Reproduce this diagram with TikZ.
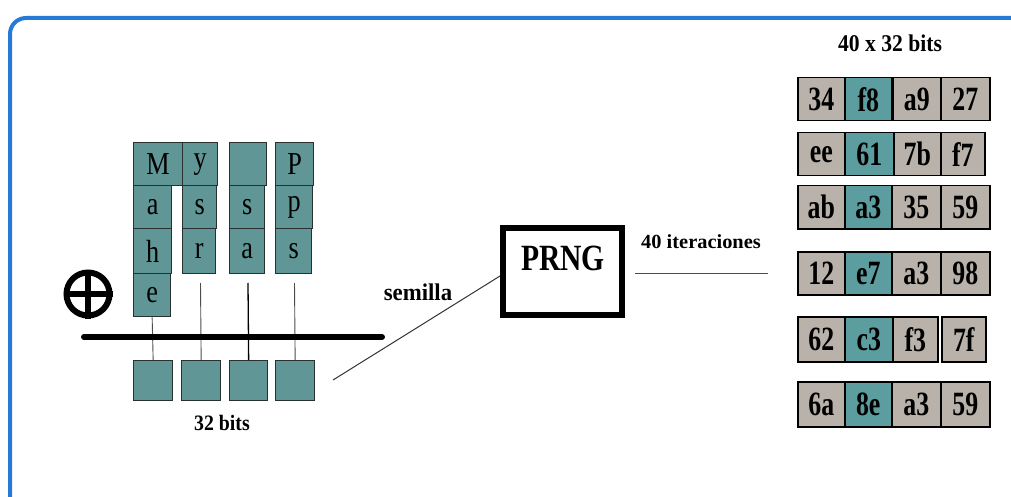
\documentclass[tikz,border=0pt]{standalone}
\usepackage{fontspec}
\setmainfont{Liberation Serif}

% narrow the glyphs horizontally
\newcommand\narrow[2][0.8]{\scalebox{#1}[1]{#2}}

\definecolor{frameblue}{RGB}{38,122,214}
\definecolor{tealcell}{RGB}{96,150,150}
\definecolor{tealhex}{RGB}{92,158,160}
\definecolor{grayhex}{RGB}{184,178,170}
\definecolor{celledge}{RGB}{40,48,48}

\tikzset{
  letter/.style={draw=celledge, fill=tealcell, line width=1.3pt, inner sep=0pt,
    font=\fontsize{32}{32}\selectfont},
  bitcell/.style={draw=celledge, fill=tealcell, line width=1.3pt, inner sep=0pt,
    minimum width=38pt, minimum height=40pt},
  hexgray/.style={draw=black, fill=grayhex, line width=1.5pt, inner sep=0pt,
    minimum height=43pt, font=\bfseries\fontsize{34}{34}\selectfont},
  hexteal/.style={hexgray, fill=tealhex},
  wire/.style={draw=black!70, line width=0.9pt},
  label/.style={inner sep=0pt, font=\bfseries\fontsize{24}{24}\selectfont},
}

\begin{document}
\begin{tikzpicture}[x=1pt, y=-1pt]
\useasboundingbox (0,0) rectangle (1011,497);
\clip (0,0) rectangle (1011,497);

% outer frame: left and top sides with the rounded corner between them
\draw[frameblue, line width=4pt, rounded corners=16pt] (10,520) -- (10,18) -- (1040,18);

% ---- message split in four columns of letters ----
\node[letter, minimum width=49pt, minimum height=43pt, anchor=north west] (cM) at (133,142) {\narrow[0.82]{M}};
\node[letter, minimum width=38pt, minimum height=43pt, anchor=north west] (ca) at (133,185) {\narrow[0.82]{a}};
\node[letter, minimum width=38pt, minimum height=45pt, anchor=north west] (ch) at (133,228) {\narrow[0.82]{h}};
\node[letter, minimum width=37pt, minimum height=43pt, anchor=north west] (ce) at (133,273) {\narrow[0.82]{e}};

\node[letter, minimum width=35pt, minimum height=43pt, anchor=north west] (cy) at (182,142) {\narrow[0.82]{y}};
\node[letter, minimum width=34pt, minimum height=43pt, anchor=north west] (cs) at (182,185) {\narrow[0.82]{s}};
\node[letter, minimum width=33pt, minimum height=45pt, anchor=north west] (cr) at (182,228) {\narrow[0.82]{r}};

\node[letter, minimum width=37pt, minimum height=43pt, anchor=north west] (cb) at (229,142) {};
\node[letter, minimum width=35pt, minimum height=43pt, anchor=north west] (cs2) at (229,185) {\narrow[0.82]{s}};
\node[letter, minimum width=35pt, minimum height=45pt, anchor=north west] (ca2) at (229,228) {\narrow[0.82]{a}};

\node[letter, minimum width=38pt, minimum height=43pt, anchor=north west] (cP) at (275,142) {\narrow[0.82]{P}};
\node[letter, minimum width=37pt, minimum height=43pt, anchor=north west] (cp) at (275,185) {\narrow[0.82]{p}};
\node[letter, minimum width=36pt, minimum height=45pt, anchor=north west] (cs3) at (275,228) {\narrow[0.82]{s}};

% ---- four resulting bytes ----
\node[bitcell, minimum width=39pt, anchor=north west] (b1) at (133,360) {};
\node[bitcell, minimum width=39pt, anchor=north west] (b2) at (181,360) {};
\node[bitcell, minimum width=38pt, anchor=north west] (b3) at (229,360) {};
\node[bitcell, minimum width=39pt, anchor=north west] (b4) at (275,360) {};
\node[label, font=\bfseries\fontsize{22}{22}\selectfont] (bits) at (222,423) {\narrow[0.9]{32 bits}};

% feeds from the columns into the bytes
\coordinate (f2) at (200.5,283);
\coordinate (f3) at (248,283);
\coordinate (f4) at (294.5,283);
\draw[wire] (ce.south) -- (b1.north);
\draw[wire] (f2) -- (b2.north);
\draw[black, line width=1.3pt] (f3) -- (b3.north);
\draw[wire] (f4) -- (b4.north);

% xor bar
\coordinate (barL) at (84,337);
\coordinate (barR) at (382,337);
\draw[black, line width=6pt, line cap=round] (barL) -- (barR);

% xor symbol
\node[circle, draw=black, line width=6pt, minimum size=43pt, inner sep=0pt] (xor) at (88,294) {};
\draw[black, line width=5.5pt] (xor.north) -- (xor.south);
\draw[black, line width=5.5pt] (xor.west) -- (xor.east);

% ---- PRNG ----
\node[draw=black, line width=6pt, minimum width=119pt, minimum height=87pt, inner sep=0pt] (prng) at (562.5,271.5) {};
\node[inner sep=0pt, font=\bfseries\fontsize{37}{37}\selectfont, anchor=base] (prngtxt) at (563,270) {\narrow[0.8]{PRNG}};

% seed
\coordinate (seedfrom) at (333,380);
\draw[black!80, line width=1pt] (seedfrom) -- (prng.west |- 0,276);
\node[label, anchor=base] (seed) at (418,300) {\narrow[0.95]{semilla}};

% iterations
\coordinate (itL) at (635,273);
\coordinate (itR) at (768,273);
\draw[black!70, line width=1pt] (itL) -- (itR);
\node[label, font=\bfseries\fontsize{20}{20}\selectfont, anchor=base] (iter) at (701,248) {\narrow[1.02]{40 iteraciones}};

% ---- output words ----
\node[label, anchor=base] (title) at (890,52) {\narrow[0.9]{40 x 32 bits}};

% row 1
\node[hexgray, minimum width=47pt, anchor=north west] (r1a) at (797,77) {\narrow[0.76]{34}};
\node[hexteal, minimum width=47pt, anchor=north west] (r1b) at (844,77) {\narrow[0.76]{f8}};
\node[hexgray, minimum width=48pt, anchor=north west] (r1c) at (892,77) {\narrow[0.76]{a9}};
\node[hexgray, minimum width=49pt, anchor=north west] (r1d) at (940,77) {\narrow[0.76]{27}};
% row 2
\node[hexgray, minimum width=47pt, anchor=north west] (r2a) at (797,132) {\narrow[0.76]{ee}};
\node[hexteal, minimum width=49pt, anchor=north west] (r2b) at (844,132) {\narrow[0.76]{61}};
\node[hexgray, minimum width=47pt, anchor=north west] (r2c) at (893,132) {\narrow[0.76]{7b}};
\node[hexgray, minimum width=44pt, anchor=north west] (r2d) at (940,132) {\narrow[0.76]{f7}};
% row 3
\node[hexgray, minimum width=47pt, anchor=north west] (r3a) at (797,185) {\narrow[0.76]{ab}};
\node[hexteal, minimum width=47pt, anchor=north west] (r3b) at (844,185) {\narrow[0.76]{a3}};
\node[hexgray, minimum width=49pt, anchor=north west] (r3c) at (891,185) {\narrow[0.76]{35}};
\node[hexgray, minimum width=49pt, anchor=north west] (r3d) at (940,185) {\narrow[0.76]{59}};
% row 4
\node[hexgray, minimum width=47pt, anchor=north west] (r4a) at (797,251) {\narrow[0.76]{12}};
\node[hexteal, minimum width=47pt, anchor=north west] (r4b) at (844,251) {\narrow[0.76]{e7}};
\node[hexgray, minimum width=49pt, anchor=north west] (r4c) at (891,251) {\narrow[0.76]{a3}};
\node[hexgray, minimum width=49pt, anchor=north west] (r4d) at (940,251) {\narrow[0.76]{98}};
% row 5
\node[hexgray, minimum width=47pt, minimum height=45pt, anchor=north west] (r5a) at (797,316) {\narrow[0.76]{62}};
\node[hexteal, minimum width=48pt, minimum height=45pt, anchor=north west] (r5b) at (844,316) {\narrow[0.76]{c3}};
\node[hexgray, minimum width=45pt, minimum height=45pt, anchor=north west] (r5c) at (892,316) {\narrow[0.76]{f3}};
\node[hexgray, minimum width=44pt, minimum height=45pt, anchor=north west] (r5d) at (941,316) {\narrow[0.76]{7f}};
% row 6
\node[hexgray, minimum width=47pt, minimum height=45pt, anchor=north west] (r6a) at (797,381) {\narrow[0.76]{6a}};
\node[hexteal, minimum width=47pt, minimum height=45pt, anchor=north west] (r6b) at (844,381) {\narrow[0.76]{8e}};
\node[hexgray, minimum width=49pt, minimum height=45pt, anchor=north west] (r6c) at (891,381) {\narrow[0.76]{a3}};
\node[hexgray, minimum width=49pt, minimum height=45pt, anchor=north west] (r6d) at (940,381) {\narrow[0.76]{59}};
\end{tikzpicture}
\end{document}
